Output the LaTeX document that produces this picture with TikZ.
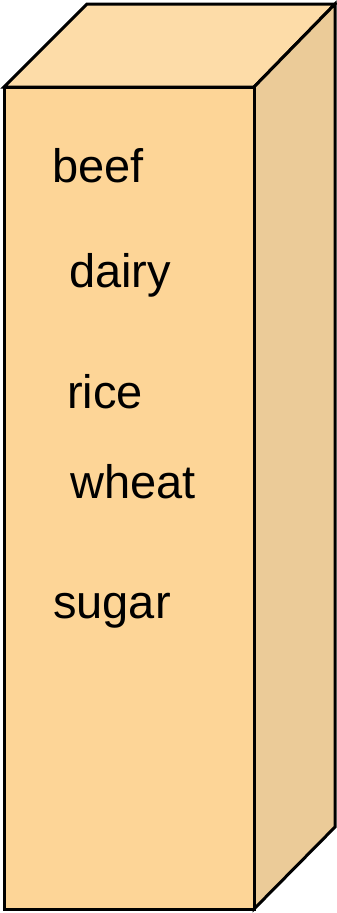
\documentclass[tikz,border=0pt]{standalone}
\usepackage{fontspec}
\setmainfont{Liberation Sans}
\definecolor{frontc}{RGB}{253,213,151}
\definecolor{topc}{RGB}{253,220,168}
\definecolor{sidec}{RGB}{235,203,152}
\begin{document}
\begin{tikzpicture}[x=1pt,y=-1pt,
  face/.style={draw=black,line width=3pt,line join=miter},
  lbl/.style={anchor=base west,inner sep=0pt,font=\fontsize{47}{56}\selectfont}]
\useasboundingbox (0,0) rectangle (337,913);
% corners
\coordinate (ftl) at (4,87);
\coordinate (ftr) at (254,87);
\coordinate (fbl) at (4,909);
\coordinate (fbr) at (254,909);
\coordinate (btl) at (87,4);
\coordinate (btr) at (335,4);
\coordinate (bbr) at (335,827);
% faces
\filldraw[face,fill=topc] (ftl) -- (btl) -- (btr) -- (ftr) -- cycle;
\filldraw[face,fill=sidec] (ftr) -- (btr) -- (bbr) -- (fbr) -- cycle;
\filldraw[face,fill=frontc] (ftl) -- (ftr) -- (fbr) -- (fbl) -- cycle;
% labels
\node[lbl] (beef) at (52,182) {beef};
\node[lbl] (dairy) at (69,287) {dairy};
\node[lbl] (rice) at (67,408) {rice};
\node[lbl] (wheat) at (70,498) {wheat};
\node[lbl] (sugar) at (53,618) {sugar};
\end{tikzpicture}
\end{document}
